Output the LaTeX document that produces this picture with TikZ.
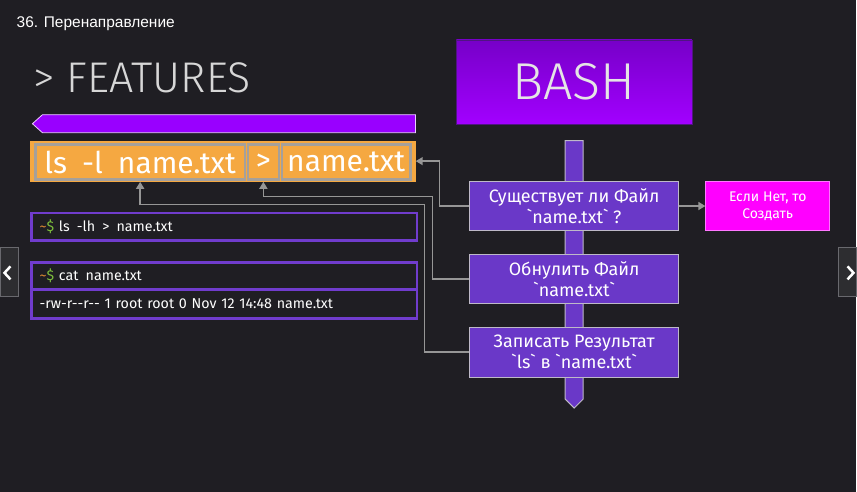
\documentclass[tikz,border=0pt]{standalone}
\usepackage{fontspec}
\setmainfont{Fira Sans}
\newfontfamily\titlefont{Liberation Sans}
\newfontfamily\lightfont{Fira Sans Light}
\usetikzlibrary{arrows.meta,shadings}
\definecolor{slidebg}{RGB}{31,30,35}
\definecolor{featgray}{RGB}{215,215,215}
\definecolor{bandpurple}{RGB}{153,0,255}
\definecolor{cmdorange}{RGB}{245,168,65}
\definecolor{partgray}{RGB}{165,160,155}
\definecolor{boxpurple}{RGB}{106,56,200}
\definecolor{boxedge}{RGB}{190,185,200}
\definecolor{termpurple}{RGB}{112,60,205}
\definecolor{createpink}{RGB}{255,0,255}
\definecolor{pinkedge}{RGB}{255,120,255}
\definecolor{linkgray}{RGB}{150,150,150}
\definecolor{bashtop}{RGB}{118,0,200}
\definecolor{bashbottom}{RGB}{162,0,255}
\definecolor{bashedge}{RGB}{80,20,130}
\definecolor{tildeorange}{RGB}{225,140,50}
\definecolor{dollargreen}{RGB}{125,190,60}
\definecolor{navfill}{RGB}{45,45,48}
\definecolor{navedge}{RGB}{105,105,110}
\newcommand\bq{\textasciigrave}
\newcommand\prompt{{\color{tildeorange}\textasciitilde}{\color{dollargreen}\$}}
\begin{document}
\begin{tikzpicture}[x=1pt, y=-1pt, font=\fontsize{18}{21}\selectfont,
    stepbox/.style={draw=boxedge, fill=boxpurple, text=white, line width=1pt, minimum width=210pt, minimum height=49pt, inner sep=0pt, align=center},
    part/.style={draw=partgray, line width=2.5pt, text=white, minimum height=35pt, inner sep=0pt, font=\fontsize{30}{30}\selectfont},
    term/.style={draw=termpurple, line width=2.5pt, fill=slidebg, anchor=north west, text width=370pt, inner xsep=8pt, inner ysep=0pt, minimum height=28pt, align=left, text=white, font=\fontsize{14.3}{16}\selectfont},
    navbtn/.style={fill=navfill, draw=navedge, line width=1pt, minimum width=18pt, minimum height=49pt, inner sep=0pt},
    link/.style={draw=linkgray, line width=1.5pt, -{Triangle[length=7pt,width=8pt]}}]
  \fill[slidebg] (0,0) rectangle (857,493);
  \node[anchor=base west, text=white, inner sep=0pt, font=\titlefont\fontsize{15.5}{18}\selectfont] (title) at (16,28) {36. Перенаправление};
  \node[anchor=base west, text=featgray, font=\lightfont\fontsize{43}{43}\selectfont, inner sep=0pt] (feat) at (33,93) {> FEATURES};
  % command line
  \draw[fill=bandpurple, draw=white!80!bandpurple, line width=0.8pt] (416,115) -- (42,115) -- (32,124) -- (42,133) -- (416,133) -- cycle;
  \node[fill=cmdorange, minimum width=386pt, minimum height=41pt, inner sep=0pt] (cmdbar) at (223,161.5) {};
  \node[part, minimum width=210pt] (lsl) at (140,162.5) {ls\enspace -l\enspace name.txt};
  \node[part, minimum width=31pt] (gt) at (263.5,162.5) {>};
  \node[part, minimum width=129pt] (file) at (346.5,162.5) {name.txt};
  % terminal
  \node[term] (lsh) at (30,212) {\prompt\ ls\enspace -lh\enspace >\enspace name.txt};
  \node[term, minimum height=27pt] (cat) at (30,262) {\prompt\ cat\enspace name.txt};
  \node[term, minimum height=29pt] (out) at (30,289) {-rw-r-{}-r-{}- 1 root root 0 Nov 12 14:48 name.txt};
  % bash
  \node[draw=bashedge, top color=bashtop, bottom color=bashbottom, text=white!90!black, minimum width=236pt, minimum height=84pt, inner sep=0pt, font=\lightfont\fontsize{52}{52}\selectfont] (bash) at (575,82) {BASH};
  \draw[fill=boxpurple, draw=boxedge, line width=1pt] (566,141) -- (584,141) -- (584,400) -- (575,409) -- (566,400) -- cycle;
  \node[stepbox] (exists) at (575,206.5) {Существует ли Файл\\\bq name.txt\bq\ ?};
  \node[stepbox] (clear) at (575,279.5) {Обнулить Файл\\\bq name.txt\bq};
  \node[stepbox, minimum height=50pt] (write) at (575,353) {Записать Результат\\\bq ls\bq\ в \bq name.txt\bq};
  \node[stepbox, fill=createpink, draw=pinkedge, minimum width=124pt, font=\fontsize{14}{17.5}\selectfont] (create) at (769,206.5) {Если Нет, то\\Создать};
  \draw[link] (exists.west) -- (440,206.5) |- (cmdbar.east);
  \draw[link] (clear.west) -- (433,279.5) -- (433,197) -| (gt.south |- cmdbar.south);
  \draw[link] (write.west) -- (425,353) -- (425,205) -| (lsl.south |- cmdbar.south);
  \draw[link] (exists.east) -- (create.west);
  % slide arrows
  \node[navbtn] (prev) at (9,272.5) {};
  \node[navbtn] (next) at (849,272.5) {};
  \draw[white, line width=2.5pt] (10,267) -- (4,273.5) -- (10,280);
  \draw[white, line width=2.5pt] (849,267) -- (855,273.5) -- (849,280);
\end{tikzpicture}
\end{document}
